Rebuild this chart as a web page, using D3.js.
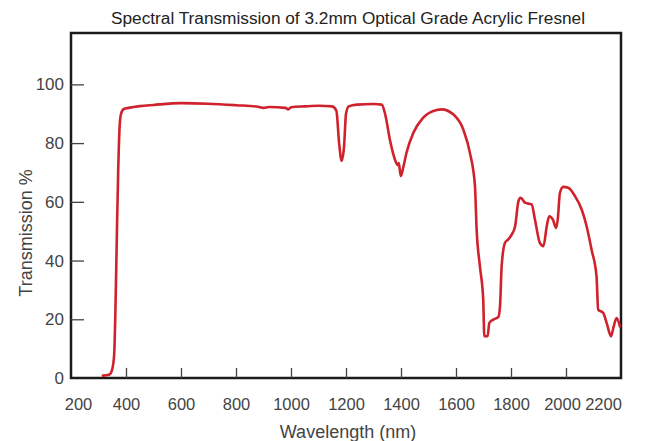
<!DOCTYPE html>
<html><head><meta charset="utf-8">
<script src="https://cdn.jsdelivr.net/npm/d3@7"></script>
<style>body{margin:0;background:#fff}svg{display:block}</style>
</head><body>
<svg id="c" width="655" height="441"></svg>
<script>
const title = "Spectral Transmission of 3.2mm Optical Grade Acrylic Fresnel";
const xLabel = "Wavelength (nm)";
const yLabel = "Transmission %";
const xTicks = [200,400,600,800,1000,1200,1400,1600,1800,2000,2200];
const yTicks = [0,20,40,60,80,100];
const wavelength = [316,340,350,357,362,367,372,377,382,392,410,450,500,600,700,800,880,900,920,980,990,1000,1050,1100,1150,1165,1175,1184,1193,1200,1210,1240,1300,1330,1342,1360,1378,1388,1392,1399,1408,1420,1445,1480,1530,1548,1590,1627,1651,1669,1675,1687,1699,1703,1715,1721,1736,1754,1760,1766,1778,1790,1803,1815,1827,1835,1851,1875,1887,1905,1918,1930,1939,1952,1964,1970,1978,1990,2008,2033,2057,2075,2093,2111,2117,2135,2148,2164,2172,2184,2196];
const transmission = [0.8,1.2,3,8,25,50,72,86,90,91.6,92,92.6,93,93.6,93.4,92.9,92.4,92.0,92.3,92.0,91.5,92.2,92.5,92.7,92.5,91,80,74,79,90,92.5,93.1,93.3,93.1,90,81,74.4,72.5,73.2,68.8,71.6,76.7,83.5,88.6,91.3,91.5,89.8,84.5,76.5,65.3,50.6,38,26.7,14.2,14.2,18.7,19.9,20.8,24.4,38,46,47.2,48.9,51.7,60.2,61.4,59.7,59.1,54,46,44.9,51.7,55.1,54,51.1,54,63.1,65.1,64.8,61.9,57.4,51.7,43.7,34.6,23.3,22.2,18.7,14.2,17,20.4,17.6];

const svg = d3.select("#c");
const L = 71, R = 621, T = 33, B = 378;
const x = d3.scaleLinear().domain([200,2200]).range([L,R]);
const y = d3.scaleLinear().domain([0,117.5]).range([B,T]);
const font = "Liberation Sans, Arial, sans-serif";

svg.append("text").attr("x",348).attr("y",24).attr("text-anchor","middle")
  .attr("font-family",font).attr("font-size",16).attr("fill","#222")
  .attr("textLength",474).attr("lengthAdjust","spacingAndGlyphs").text(title);

// frame
svg.append("rect").attr("x",L).attr("y",T).attr("width",R-L).attr("height",B-T)
  .attr("fill","none").attr("stroke","#1a1a1a").attr("stroke-width",2.5);

// x axis (inner ticks)
const xa = svg.append("g").attr("transform",`translate(0,${B})`)
  .call(d3.axisBottom(x).tickValues(xTicks).tickSizeInner(-10).tickSizeOuter(0).tickPadding(20).tickFormat(d3.format("d")));
xa.select(".domain").remove();
xa.selectAll(".tick line").attr("stroke","#444").attr("stroke-width",1.3)
  .filter(d=>d===200||d===2200).remove();
xa.selectAll("text").attr("font-family",font).attr("font-size",16.5).attr("fill","#444");
xa.selectAll(".tick").filter(d=>d===200).select("text").attr("dx",7);
xa.selectAll(".tick").filter(d=>d===2000).select("text").attr("dx",-4);
xa.selectAll(".tick").filter(d=>d===2200).select("text").attr("dx",-18);

const ya = svg.append("g").attr("transform",`translate(${L},0)`)
  .call(d3.axisLeft(y).tickValues(yTicks).tickSizeInner(-13).tickSizeOuter(0).tickPadding(7));
ya.select(".domain").remove();
ya.selectAll(".tick line").attr("stroke","#444").attr("stroke-width",1.3)
  .filter(d=>d===0).remove();
ya.selectAll("text").attr("font-family",font).attr("font-size",17).attr("fill","#444");

svg.append("text").attr("x",348).attr("y",438).attr("text-anchor","middle")
  .attr("font-family",font).attr("font-size",18).attr("fill","#444").text(xLabel);
svg.append("text").attr("transform","translate(32,233) rotate(-90)").attr("text-anchor","middle")
  .attr("font-family",font).attr("font-size",18).attr("fill","#444").text(yLabel);

const data = wavelength.map((w,i)=>[w,transmission[i]]);
svg.append("path").datum(data)
  .attr("fill","none").attr("stroke","#d0222c").attr("stroke-width",2.6)
  .attr("stroke-linejoin","round").attr("stroke-linecap","round")
  .attr("d", d3.line().x(d=>x(d[0])).y(d=>y(d[1])).curve(d3.curveMonotoneX));
</script>
</body></html>
